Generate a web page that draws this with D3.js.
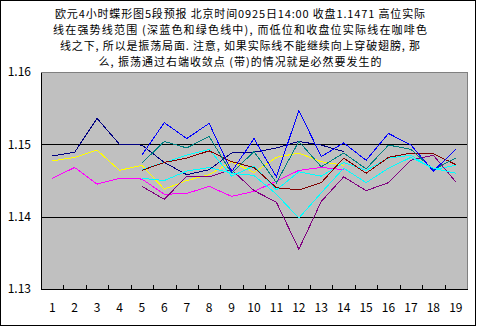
<!DOCTYPE html>
<html>
<head>
<meta charset="utf-8">
<script src="https://cdn.jsdelivr.net/npm/d3@7"></script>
<style>
  html, body { margin: 0; padding: 0; background: #fff; }
  svg { display: block; }
  text { font-family: "Noto Sans CJK SC", "DejaVu Sans", sans-serif; fill: #000; }
</style>
</head>
<body>
<svg id="chart" width="483" height="332"></svg>
<script>
// Title, four lines, with the width each line spans
const titleLines = [
  "欧元4小时蝶形图5段预报  北京时间0925日14:00  收盘1.1471  高位实际",
  "线在强势线范围 (深蓝色和绿色线中), 而低位和收盘位实际线在咖啡色",
  "线之下, 所以是振荡局面. 注意, 如果实际线不能继续向上穿破翅膀, 那",
  "么, 振荡通过右端收敛点 (带)的情况就是必然要发生的"
];
const titleWidths = [370, 374, 360, 283];

// 4-hour bars 1..19
const categories = ["1","2","3","4","5","6","7","8","9","10","11","12","13","14","15","16","17","18","19"];
const yTicks = [1.13, 1.14, 1.15, 1.16];
const gridValues = [1.14, 1.15];

// Actual lines, bars 1-14
const highActual  = [1.1484, 1.1489, 1.1536, 1.1500, 1.1499, 1.1475, 1.1458, 1.1465, 1.1488, 1.1489, 1.1495, 1.1504, 1.1499, 1.1490];
const lowActual   = [1.1453, 1.1468, 1.1445, 1.1453, 1.1452, 1.1431, 1.1432, 1.1442, 1.1428, 1.1435, 1.1449, 1.1464, 1.1468, 1.1465];
const closeActual = [1.1477, 1.1482, 1.1492, 1.1464, 1.1471, 1.1438, 1.1450, 1.1458, 1.1476, 1.1461, 1.1482, 1.1488, 1.1476, 1.1471];

// Forecast band lines, bars 5-19
const forecastStart = 4;
const bandCyanA  = [1.1465, 1.1475, 1.1485, 1.1493, 1.1456, 1.1470, 1.1437, 1.1462, 1.1456, 1.1475, 1.1464, 1.1481, 1.1485, 1.1465, 1.1471];
const bandPurple = [1.1442, 1.1424, 1.1456, 1.1455, 1.1465, 1.1436, 1.1420, 1.1355, 1.1421, 1.1455, 1.1436, 1.1447, 1.1478, 1.1485, 1.1448];
const bandMaroon = [1.1464, 1.1475, 1.1481, 1.1491, 1.1476, 1.1468, 1.1440, 1.1437, 1.1447, 1.1481, 1.1460, 1.1482, 1.1488, 1.1487, 1.1472];
const bandTeal   = [1.1474, 1.1504, 1.1495, 1.1511, 1.1460, 1.1490, 1.1447, 1.1504, 1.1469, 1.1488, 1.1466, 1.1499, 1.1493, 1.1465, 1.1481];
const bandBlue   = [1.1485, 1.1530, 1.1508, 1.1529, 1.1462, 1.1508, 1.1455, 1.1547, 1.1483, 1.1502, 1.1478, 1.1515, 1.1499, 1.1463, 1.1493];
const bandCyanB  = [1.1453, 1.1450, 1.1463, 1.1468, 1.1460, 1.1457, 1.1431, 1.1398, 1.1433, 1.1467, 1.1447, 1.1467, 1.1482, 1.1467, 1.1460];

// Place a run of values onto the 19 category slots
function onCategories(values, start) {
  return categories.map((c, i) => {
    const k = i - start;
    return (k >= 0 && k < values.length) ? values[k] : null;
  });
}

// Drawing order and colours follow the classic spreadsheet palette
const series = [
  { name: "高位实际",  values: onCategories(highActual, 0),            color: "#000080" },
  { name: "低位实际",  values: onCategories(lowActual, 0),             color: "#FF00FF" },
  { name: "收盘实际",  values: onCategories(closeActual, 0),           color: "#FFFF00" },
  { name: "线4",       values: onCategories(bandCyanA, forecastStart),  color: "#00FFFF" },
  { name: "线5",       values: onCategories(bandPurple, forecastStart), color: "#800080" },
  { name: "咖啡色线",  values: onCategories(bandMaroon, forecastStart), color: "#800000" },
  { name: "绿色线",    values: onCategories(bandTeal, forecastStart),   color: "#008080" },
  { name: "深蓝色线",  values: onCategories(bandBlue, forecastStart),   color: "#0000FF" },
  { name: "线9",       values: onCategories(bandCyanB, forecastStart),  color: "#00FFFF" }
];

const svg = d3.select("#chart");
const plot = { left: 41, right: 467, top: 72, bottom: 289 };

// outer chart border
svg.append("rect")
  .attr("x", 0.5).attr("y", 0.5)
  .attr("width", 475).attr("height", 325)
  .attr("fill", "#fff").attr("stroke", "#000").attr("stroke-width", 1)
  .attr("shape-rendering", "crispEdges");

// title
svg.append("g").selectAll("text")
  .data(titleLines)
  .join("text")
  .attr("x", 240)
  .attr("y", (d, i) => 18.3 + i * 16)
  .attr("text-anchor", "middle")
  .attr("font-size", 11)
  .attr("textLength", (d, i) => titleWidths[i])
  .attr("lengthAdjust", "spacing")
  .text(d => d);

const x = d3.scaleBand().domain(categories).range([plot.left, plot.right]).padding(0);
const y = d3.scaleLinear().domain([1.13, 1.16]).range([plot.bottom, plot.top]);
const cx = c => x(c) + x.bandwidth() / 2;

// plot area
svg.append("rect")
  .attr("x", plot.left).attr("y", plot.top)
  .attr("width", plot.right - plot.left).attr("height", plot.bottom - plot.top)
  .attr("fill", "#C0C0C0").attr("stroke", "#808080").attr("stroke-width", 1)
  .attr("shape-rendering", "crispEdges");

// horizontal gridlines
svg.append("g").selectAll("line")
  .data(gridValues)
  .join("line")
  .attr("x1", plot.left).attr("x2", plot.right)
  .attr("y1", d => Math.round(y(d)) + 0.5).attr("y2", d => Math.round(y(d)) + 0.5)
  .attr("stroke", "#000").attr("stroke-width", 1)
  .attr("shape-rendering", "crispEdges");

// value axis
const yAxis = svg.append("g")
  .attr("transform", `translate(${plot.left},0)`)
  .call(d3.axisLeft(y).tickValues(yTicks).tickFormat(d3.format(".2f")).tickSize(0).tickPadding(10));
yAxis.select(".domain").attr("stroke", "#000").attr("shape-rendering", "crispEdges");
yAxis.selectAll("text").attr("font-size", 12).attr("font-family", "\"Noto Sans CJK SC\", sans-serif");

// category axis with inward ticks between categories
const xAxis = svg.append("g")
  .attr("transform", `translate(0,${plot.bottom})`)
  .call(d3.axisBottom(x).tickSize(0).tickPadding(14));
xAxis.select(".domain").attr("stroke", "#000").attr("shape-rendering", "crispEdges");
xAxis.selectAll("text").attr("font-size", 12).attr("font-family", "\"Noto Sans CJK SC\", sans-serif");
xAxis.selectAll("line.between")
  .data(categories.slice(1))
  .join("line")
  .attr("class", "between")
  .attr("x1", d => Math.round(x(d)) + 0.5).attr("x2", d => Math.round(x(d)) + 0.5)
  .attr("y1", 0).attr("y2", -4)
  .attr("stroke", "#000")
  .attr("shape-rendering", "crispEdges");

// series lines
const line = d3.line()
  .defined(d => d.v != null)
  .x(d => cx(d.c))
  .y(d => y(d.v));

svg.append("g").selectAll("path")
  .data(series)
  .join("path")
  .attr("d", s => line(categories.map((c, i) => ({ c, v: s.values[i] }))))
  .attr("fill", "none")
  .attr("stroke", s => s.color)
  .attr("stroke-width", 1)
  .attr("shape-rendering", "crispEdges");
</script>
</body>
</html>
